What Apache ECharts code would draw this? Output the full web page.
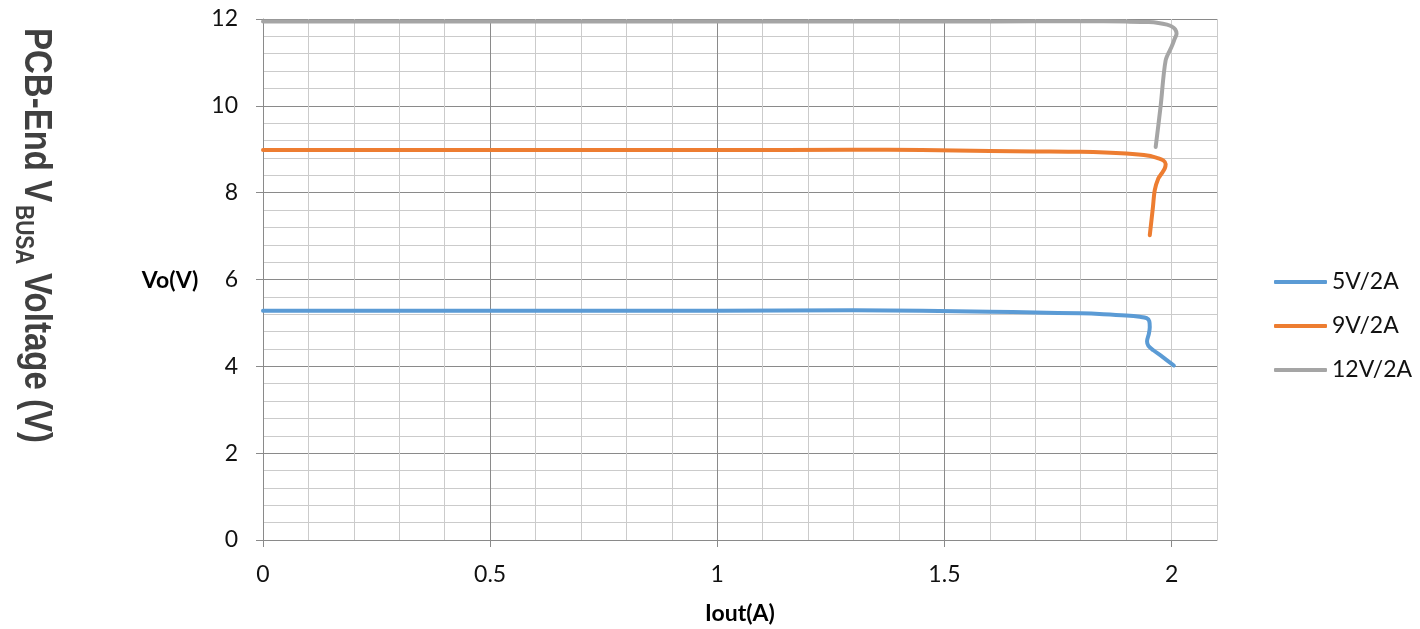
<!DOCTYPE html>
<html>
<head>
<meta charset="utf-8">
<script src="https://cdn.jsdelivr.net/npm/echarts@6/dist/echarts.min.js"></script>
<style>
  html, body { margin: 0; padding: 0; background: #ffffff; }
  #chart { width: 1420px; height: 629px; }
</style>
</head>
<body>
<div id="chart"></div>
<script>
// Output voltage vs. load current for each PD profile
const seriesNames = ['5V/2A', '9V/2A', '12V/2A'];

const iout5V = [0, 0.5, 1.0, 1.3, 1.45, 1.6, 1.7, 1.8, 1.85, 1.9, 1.93, 1.945, 1.951, 1.952, 1.95, 1.946, 1.949, 1.96, 1.98, 2.005];
const vo5V   = [5.28, 5.28, 5.28, 5.29, 5.28, 5.26, 5.24, 5.22, 5.20, 5.17, 5.14, 5.11, 5.04, 4.90, 4.75, 4.58, 4.47, 4.37, 4.22, 4.02];

const iout9V = [0, 0.5, 1.0, 1.3, 1.45, 1.6, 1.7, 1.8, 1.9, 1.95, 1.971, 1.982, 1.987, 1.985, 1.978, 1.971, 1.963, 1.959, 1.952];
const vo9V   = [8.98, 8.98, 8.98, 8.99, 8.98, 8.96, 8.95, 8.94, 8.90, 8.85, 8.79, 8.74, 8.66, 8.56, 8.44, 8.33, 8.06, 7.67, 7.02];

const iout12V = [0, 0.5, 1.0, 1.5, 1.7, 1.8, 1.9, 1.95, 1.971, 1.99, 2.0, 2.008, 2.011, 2.007, 2.0, 1.987, 1.976, 1.965];
const vo12V   = [11.94, 11.94, 11.94, 11.94, 11.95, 11.95, 11.94, 11.93, 11.91, 11.87, 11.83, 11.76, 11.66, 11.55, 11.36, 11.05, 10.00, 9.05];

const xLabelTicks = [0, 0.5, 1, 1.5, 2];

const COLORS = ['#5B9BD5', '#ED7D31', '#A5A5A5'];
const MAJOR = '#8a8a8a';
const MINOR = '#cbcbcb';
const LABEL_FONT = 'Lato';

function pairs(xs, ys) {
  return xs.map((x, i) => [x, ys[i]]);
}

const curves = [pairs(iout5V, vo5V), pairs(iout9V, vo9V), pairs(iout12V, vo12V)];

const chart = echarts.init(document.getElementById('chart'), null, { renderer: 'canvas' });

chart.setOption({
  animation: false,
  backgroundColor: '#ffffff',
  grid: {
    left: 263, right: 203, top: 19, bottom: 89,
    containLabel: false,
    outerBoundsMode: 'none'
  },
  legend: {
    orient: 'vertical',
    left: 1269,
    top: 265,
    padding: 5,
    itemWidth: 53,
    itemHeight: 4,
    itemGap: 20,
    icon: 'roundRect',
    data: seriesNames,
    textStyle: { fontFamily: LABEL_FONT, fontSize: 23, lineHeight: 24, color: '#111111' }
  },
  xAxis: [
    {
      // fine 0.1 A grid
      type: 'value', position: 'bottom',
      min: 0, max: 2.1, interval: 0.1,
      axisLine: { show: false },
      axisTick: { show: false },
      axisLabel: { show: false },
      splitLine: { show: true, lineStyle: { color: MINOR, width: 1 } }
    },
    {
      // labelled 0.5 A divisions
      type: 'value', position: 'bottom',
      min: 0, max: 2.1, interval: 0.5,
      z: 1,
      axisLine: { show: true, onZero: false, lineStyle: { color: MAJOR, width: 1 } },
      axisTick: { show: true, length: 7, lineStyle: { color: MAJOR }, customValues: xLabelTicks },
      axisLabel: {
        customValues: xLabelTicks,
        margin: 23,
        fontFamily: LABEL_FONT, fontSize: 23, color: '#111111'
      },
      splitLine: { show: true, showMaxLine: false, lineStyle: { color: MAJOR, width: 1 } }
    }
  ],
  yAxis: {
    type: 'value',
    min: 0, max: 12, interval: 2,
    axisLine: { show: true, onZero: false, lineStyle: { color: MAJOR, width: 1 } },
    axisTick: { show: true, length: 7, lineStyle: { color: MAJOR } },
    axisLabel: { margin: 25, fontFamily: LABEL_FONT, fontSize: 23, color: '#111111' },
    splitLine: { show: true, lineStyle: { color: MAJOR, width: 1 } },
    minorTick: { show: false, splitNumber: 5 },
    minorSplitLine: { show: true, lineStyle: { color: MINOR, width: 1 } }
  },
  series: seriesNames.map((name, i) => ({
    name: name,
    type: 'line',
    xAxisIndex: 0,
    yAxisIndex: 0,
    data: curves[i],
    symbol: 'none',
    showSymbol: false,
    smooth: 0.3,
    z: 5,
    color: COLORS[i],
    lineStyle: { color: COLORS[i], width: 4, cap: 'round', join: 'round' }
  })),
  graphic: [
    {
      type: 'text', x: 170, y: 281,
      style: { text: 'Vo(V)', font: 'bold 23px Lato', fill: '#000000', align: 'center', verticalAlign: 'middle' }
    },
    {
      type: 'text', x: 740, y: 614,
      style: { text: 'Iout(A)', font: 'bold 23px Lato', fill: '#000000', align: 'center', verticalAlign: 'middle' }
    },
    {
      type: 'text', x: 36, y: 28, rotation: -Math.PI / 2, scaleY: 1.2,
      style: { text: 'PCB-End V', font: 'bold 33px "Liberation Sans"', fill: '#404040', align: 'left', verticalAlign: 'middle' }
    },
    {
      type: 'text', x: 22.5, y: 205, rotation: -Math.PI / 2, scaleY: 1.2,
      style: { text: 'BUSA', font: 'bold 21px "Liberation Sans"', fill: '#404040', align: 'left', verticalAlign: 'middle' }
    },
    {
      type: 'text', x: 36, y: 273, rotation: -Math.PI / 2, scaleY: 1.2,
      style: { text: 'Voltage (V)', font: 'bold 33px "Liberation Sans"', fill: '#404040', align: 'left', verticalAlign: 'middle' }
    }
  ]
});
</script>
</body>
</html>
